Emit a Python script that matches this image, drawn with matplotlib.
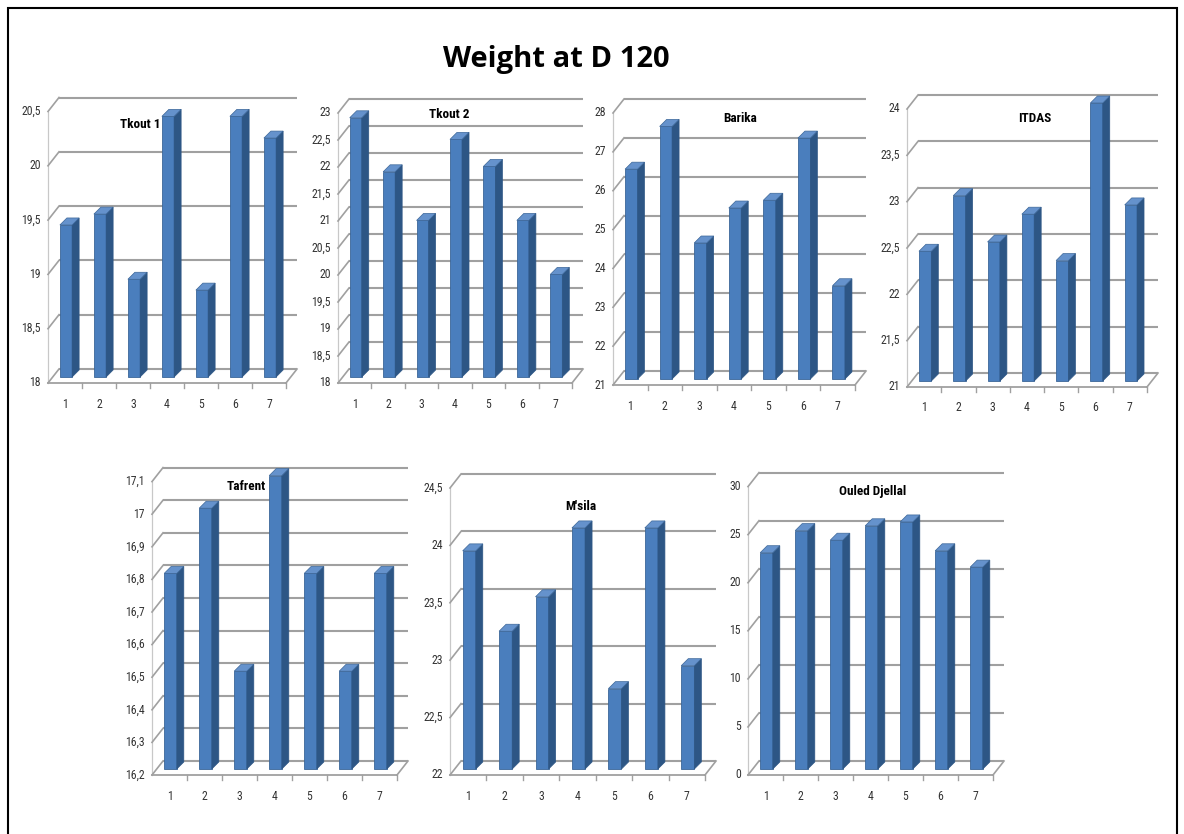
import numpy as np
import matplotlib
matplotlib.use("Agg")
import matplotlib.pyplot as plt
from matplotlib.patches import Polygon, Rectangle
from matplotlib import font_manager

# ---- data -------------------------------------------------------------
categories = [1, 2, 3, 4, 5, 6, 7]

tkout1 = [19.4, 19.5, 18.9, 20.4, 18.8, 20.4, 20.2]
tkout2 = [22.8, 21.8, 20.9, 22.4, 21.9, 20.9, 19.9]
barika = [26.4, 27.5, 24.5, 25.4, 25.6, 27.2, 23.4]
itdas = [22.4, 23.0, 22.5, 22.8, 22.3, 24.0, 22.9]
tafrent = [16.8, 17.0, 16.5, 17.1, 16.8, 16.5, 16.8]
msila = [23.9, 23.2, 23.5, 24.1, 22.7, 24.1, 22.9]
ouled_djellal = [22.5, 24.8, 23.8, 25.3, 25.7, 22.7, 21.0]

panel_titles = ["Tkout 1", "Tkout 2", "Barika", "ITDAS", "Tafrent", "M'sila", "Ouled Djellal"]
panel_values = [tkout1, tkout2, barika, itdas, tafrent, msila, ouled_djellal]
# (min, max, step) of each value axis
panel_ranges = [(18, 20.5, 0.5), (18, 23, 0.5), (21, 28, 1), (21, 24, 0.5),
                (16.2, 17.1, 0.1), (22, 24.5, 0.5), (0, 30, 5)]

main_title = "Weight at D 120"

# ---- layout (pixels on a 1184 x 834 canvas) -----------------------------
W_PX, H_PX = 1184, 834
# front plane of each panel: left x, right x, y of axis minimum, y of axis maximum
panel_boxes = [(48, 286, 383, 111.5), (338, 572, 383, 113), (613, 855, 385, 113),
               (907, 1147, 387, 109), (152, 397, 775, 481.6), (450, 705, 775, 488),
               (748, 993, 775, 486.6)]
title_pos = [(140, 124), (449, 115), (740, 118), (1035, 119), (246, 486), (581, 506), (873, 492)]

WALL = (11, 14)     # back wall offset (px, right / up)
BAR_OFF = (1, 6)    # bar front-face offset from the front plane
DEPTH = (7, 7)      # bar depth
BAR_W = 0.36

FRONT = "#4a7ebd"
SIDE = "#2d5685"
TOP = "#6592cc"
EDGE = "#3b6698"
GRID = "#a0a0a0"

names = {f.name for f in font_manager.fontManager.ttflist}


def pick(cands, default):
    for c in cands:
        if c in names:
            return c
    return default


NARROW = pick(["Liberation Sans Narrow", "Roboto Condensed", "Barlow Semi Condensed",
               "Asap Condensed"], "Liberation Sans")
TITLE_FONT = pick(["Open Sans", "Carlito", "Lato"], "DejaVu Sans")


def fmt(t):
    s = f"{round(t, 3):.1f}"
    if s.endswith(".0"):
        s = s[:-2]
    return s.replace(".", ",")


fig = plt.figure(figsize=(W_PX / 100, H_PX / 100), dpi=100)
fig.patch.set_facecolor("white")

for vals, (ymin, ymax, step), (lx, rx, by0, ty0), title, (tx, ty) in zip(
        panel_values, panel_ranges, panel_boxes, panel_titles, title_pos):
    box_w = rx - lx
    box_h = by0 - ty0
    ax = fig.add_axes([lx / W_PX, 1 - by0 / H_PX, box_w / W_PX, box_h / H_PX])
    ax.set_xlim(0.5, 7.5)
    ax.set_ylim(ymin, ymax)
    ax.axis("off")

    ux = 7.0 / box_w
    uy = (ymax - ymin) / box_h
    wx, wy = WALL[0] * ux, WALL[1] * uy

    ticks = np.arange(ymin, ymax + step / 2, step)
    # left wall edge
    ax.plot([0.5, 0.5], [ymin, ymax], color="#c8c8c8", lw=0.9, clip_on=False, zorder=1)
    for t in ticks:
        ax.plot([0.5 + wx, 7.5 + wx], [t + wy, t + wy], color=GRID, lw=1.5,
                clip_on=False, zorder=1, solid_capstyle="butt")
        ax.plot([0.5, 0.5 + wx], [t, t + wy], color=GRID, lw=1.2, clip_on=False, zorder=1)
        ax.text(0.5 - 7 * ux, t, fmt(t), ha="right", va="center", fontsize=8.5,
                family=NARROW, color="#333333")

    # floor
    ax.plot([0.5, 7.5], [ymin, ymin], color=GRID, lw=1.3, clip_on=False, zorder=1)
    ax.plot([7.5, 7.5 + wx], [ymin, ymin + wy], color=GRID, lw=1.2, clip_on=False, zorder=1)
    for b in np.arange(1.5, 7.6, 1.0):
        ax.plot([b, b], [ymin, ymin - 5 * uy], color=GRID, lw=1.0, clip_on=False, zorder=1)
    for c in categories:
        ax.text(c, ymin - 21 * uy, str(c), ha="center", va="center", fontsize=8.5,
                family=NARROW, color="#333333")

    # columns: front faces, then side and top faces
    bx, byo = BAR_OFF[0] * ux, BAR_OFF[1] * uy
    dx, dy = DEPTH[0] * ux, DEPTH[1] * uy
    xs = np.array(categories, dtype=float) + bx
    v = np.array(vals, dtype=float)
    ax.bar(xs, v - ymin, bottom=ymin + byo, width=BAR_W, color=FRONT,
           edgecolor=EDGE, linewidth=0.6, clip_on=False, zorder=3)
    for xi, vi in zip(xs, v):
        left, right = xi - BAR_W / 2, xi + BAR_W / 2
        base, top = ymin + byo, vi + byo
        ax.add_patch(Polygon([(right, base), (right + dx, base + dy), (right + dx, top + dy),
                              (right, top)], closed=True, facecolor=SIDE, edgecolor=SIDE,
                             linewidth=0.5, clip_on=False, zorder=3))
        ax.add_patch(Polygon([(left, top), (right, top), (right + dx, top + dy),
                              (left + dx, top + dy)], closed=True, facecolor=TOP,
                             edgecolor=EDGE, linewidth=0.5, clip_on=False, zorder=3))

    fig.text(tx / W_PX, 1 - ty / H_PX, title, ha="center", va="center", fontsize=9.5,
             fontweight="bold", family=NARROW, color="black", zorder=5)

fig.text(556 / W_PX, 1 - 60 / H_PX, main_title, ha="center", va="center", fontsize=21,
         fontweight="bold", family=TITLE_FONT, color="black")

# outer frame
fig.add_artist(Rectangle((8 / W_PX, -0.02), (1177 - 8) / W_PX, 1 - 8 / H_PX + 0.02,
                         transform=fig.transFigure, fill=False, edgecolor="black", linewidth=1.5))

fig.savefig("out.png", dpi=100, facecolor="white")
